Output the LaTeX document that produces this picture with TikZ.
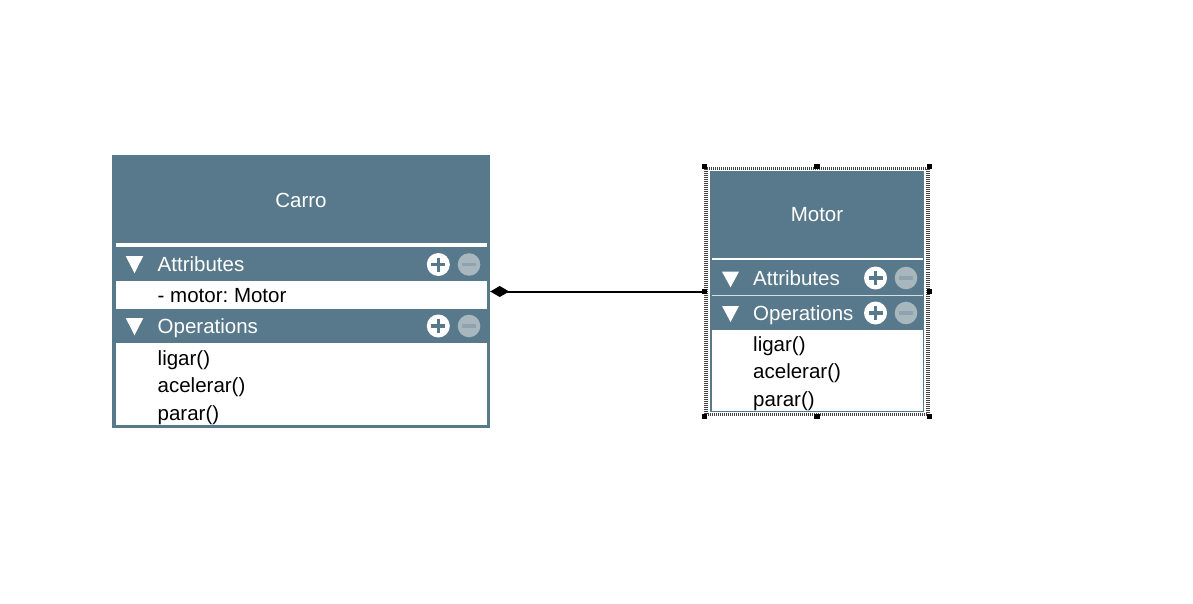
\documentclass[tikz,border=0pt]{standalone}
\usepackage{fontspec}
\setmainfont{Liberation Sans}
\usetikzlibrary{arrows.meta}
\definecolor{slate}{HTML}{57798B}
\definecolor{mgray}{HTML}{A8B6BE}
\definecolor{mminus}{HTML}{8FA2AD}
\frenchspacing
\tikzset{
  lbl/.style={anchor=base west, inner sep=0pt, font=\fontsize{20.5}{24}\selectfont},
  ttl/.style={anchor=base, inner sep=0pt, text=white, font=\fontsize{20.5}{24}\selectfont},
  hdr/.style={lbl, text=white},
  boxbg/.style={fill=slate, inner sep=0pt, draw=none},
  plusicon/.pic={\fill[white] (0,0) circle (11.5);
    \draw[slate, line width=3.2pt] (-7,0) -- (7,0) (0,-7) -- (0,7);},
  minusicon/.pic={\fill[mgray] (0,0) circle (11.3);
    \draw[mminus, line width=3.2pt] (-7,0) -- (7,0);},
  handle/.style={fill=black},
}
\begin{document}
\begin{tikzpicture}[x=1pt, y=-1pt]
\fill[white] (0,0) rectangle (1193,604);
\useasboundingbox (0,0) rectangle (1193,604);

% ---------- Carro ----------
\node[boxbg, minimum width=378pt, minimum height=273pt] (carro) at (301,291.5) {};
\fill[white] (116,243.3) rectangle (487,246.7);
\fill[white] (115.5,281) rectangle (486.7,309.3);
\fill[white] (115.5,343.3) rectangle (486.7,425);
\node[ttl] (carrot) at (301,207.3) {Carro};
\fill[white] (125.7,256) -- (143.3,256) -- (134.5,273.3) -- cycle;
\node[hdr] (cattr) at (157.5,271.5) {Attributes};
\pic at (438.3,264.5) {plusicon};
\pic at (469,264.5) {minusicon};
\node[lbl] (cmotor) at (157.5,302) {- motor: Motor};
\fill[white] (125.7,318) -- (143.3,318) -- (134.5,335.3) -- cycle;
\node[hdr] (cops) at (157.5,333.3) {Operations};
\pic at (438.3,326) {plusicon};
\pic at (469,326) {minusicon};
\node[lbl] (cligar) at (157.5,365.2) {ligar()};
\node[lbl] (cacel) at (157.5,392.4) {acelerar()};
\node[lbl] (cparar) at (157.5,420) {parar()};

% ---------- Motor ----------
\node[boxbg, minimum width=214pt, minimum height=240pt] (motor) at (817,291.5) {};
\fill[white] (711.5,257.7) rectangle (922.5,260);
\draw[white!75!slate, line width=0.8pt] (711.5,295.3) -- (922.5,295.3);
\fill[white] (711.5,330) rectangle (922.5,410.5);
\node[ttl] (motort) at (817,221.6) {Motor};
\fill[white] (722,271.7) -- (739,271.7) -- (730.5,287.3) -- cycle;
\node[hdr] (mattr) at (753,285.6) {Attributes};
\pic at (875.5,278) {plusicon};
\pic at (906,278) {minusicon};
\fill[white] (722,306) -- (739,306) -- (730.5,322) -- cycle;
\node[hdr] (mops) at (753,320.7) {Operations};
\pic at (875.5,313) {plusicon};
\pic at (906,313) {minusicon};
\node[lbl] (mligar) at (753,351.7) {ligar()};
\node[lbl] (macel) at (753,378.5) {acelerar()};
\node[lbl] (mparar) at (753,406.2) {parar()};

% selection frame
\node[inner sep=0pt, minimum width=222pt, minimum height=246pt,
      draw=black!75, line width=3.2pt, dash pattern=on 1pt off 1pt] (msel) at (817,291.5) {};
\foreach \a in {north west,north,north east,west,east,south west,south,south east}{
  \fill[handle] (msel.\a) ++(-2.6,-2.6) rectangle ++(5.2,5.2);
}

% ---------- composition ----------
\draw[line width=2pt, {Diamond[length=19pt,width=11pt]}-] (carro.east) -- (msel.west);
\end{tikzpicture}
\end{document}
